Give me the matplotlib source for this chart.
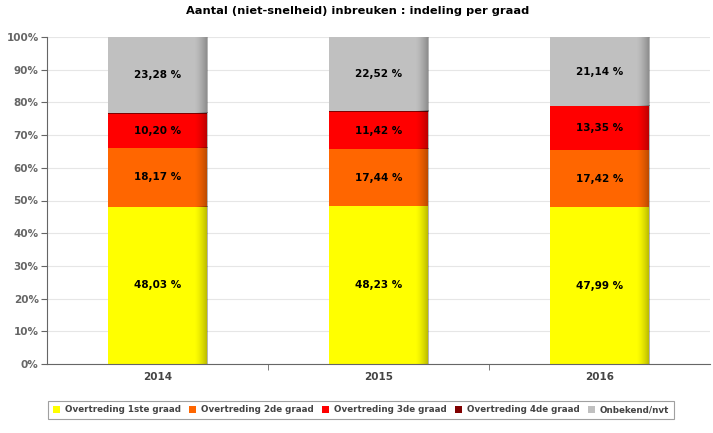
import numpy as np
import matplotlib
matplotlib.use('Agg')
import matplotlib.pyplot as plt
from matplotlib.patches import Patch

# data
jaren = ['2014', '2015', '2016']
graad1 = [48.03, 48.23, 47.99]
graad2 = [18.17, 17.44, 17.42]
graad3 = [10.20, 11.42, 13.35]
graad4 = [0.32, 0.39, 0.10]
onbekend = [23.28, 22.52, 21.14]

reeksen = ['Overtreding 1ste graad', 'Overtreding 2de graad', 'Overtreding 3de graad',
           'Overtreding 4de graad', 'Onbekend/nvt']
kleuren = ['#ffff00', '#ff6600', '#ff0000', '#800000', '#c0c0c0']
waarden = [graad1, graad2, graad3, graad4, onbekend]
toon_label = [True, True, True, False, True]

fig = plt.figure(figsize=(7.13, 4.33), dpi=100)
ax = fig.add_axes([47/713, 1-364/433, 663/713, 327/433])

x = np.arange(len(jaren))
breedte = 0.45
onder = np.zeros(len(jaren))

# schaduw-gradient voor rechterkant van de balk
grad = np.zeros((1, 50, 4))
grad[0, :, 3] = np.linspace(0, 0.45, 50) ** 1.5

for vals, kleur, lab in zip(waarden, kleuren, toon_label):
    vals = np.array(vals)
    ax.bar(x, vals, breedte, bottom=onder, color=kleur, zorder=2, linewidth=0)
    for i in range(len(jaren)):
        rechts = x[i] + breedte / 2
        ax.imshow(grad, extent=(rechts - 0.06, rechts, onder[i], onder[i] + vals[i]),
                  aspect='auto', zorder=3, interpolation='bilinear')
        if lab:
            ax.text(x[i], onder[i] + vals[i] / 2, ('%.2f %%' % vals[i]).replace('.', ','),
                    ha='center', va='center', fontsize=7.5, fontweight='bold', zorder=4)
    onder += vals

ax.set_xlim(-0.5, 2.5)
ax.set_ylim(0, 100)
ax.set_yticks(np.arange(0, 101, 10))
ax.set_yticklabels(['%d%%' % v for v in range(0, 101, 10)], fontsize=7.5,
                   fontweight='bold', color='#666666')
ax.set_xticks(x)
ax.set_xticklabels(jaren, fontsize=7.5, fontweight='bold', color='#444444')
ax.tick_params(axis='x', length=0, pad=6)
ax.set_xticks([0.5, 1.5], minor=True)
ax.tick_params(axis='x', which='minor', length=4, color='#666666')
ax.tick_params(axis='y', length=4, color='#666666', pad=2)
ax.grid(axis='y', color='#e6e6e6', linewidth=0.8, zorder=0)
ax.set_axisbelow(True)
for s in ['top', 'right']:
    ax.spines[s].set_visible(False)
for s in ['left', 'bottom']:
    ax.spines[s].set_color('#666666')

fig.suptitle('Aantal (niet-snelheid) inbreuken : indeling per graad', fontsize=8.2,
             fontweight='bold', x=358/713, y=0.985)

handles = [Patch(facecolor=k, edgecolor='none') for k in kleuren]
leg = fig.legend(handles, reeksen, loc='center', bbox_to_anchor=(361/713, 1-410/433),
                 ncol=5, fontsize=6.3, frameon=True, fancybox=False,
                 handlelength=0.8, handleheight=0.8, handletextpad=0.6, columnspacing=0.9,
                 borderpad=0.5)
leg.get_frame().set_edgecolor('#888888')
leg.get_frame().set_linewidth(0.8)
for t in leg.get_texts():
    t.set_fontweight('bold')
    t.set_color('#444444')

fig.savefig('out.png', dpi=100)
